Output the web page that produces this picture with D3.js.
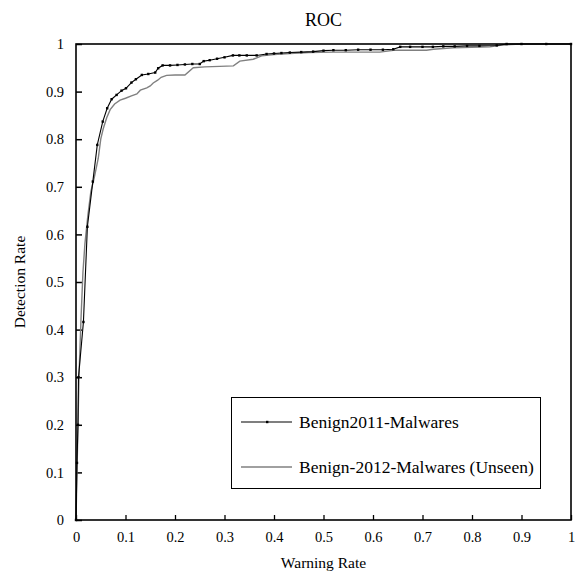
<!DOCTYPE html>
<html>
<head>
<meta charset="utf-8">
<script src="https://cdn.jsdelivr.net/npm/d3@7"></script>
<style>
  body { margin: 0; background: #fff; }
  svg { font-family: "Liberation Serif", "Times New Roman", serif; }
</style>
</head>
<body>
<script>
// data
const benign2011X = [0, 0.002, 0.004, 0.005, 0.015, 0.023, 0.034, 0.043, 0.054, 0.063, 0.072, 0.082, 0.092, 0.101, 0.112, 0.121, 0.133, 0.146, 0.160, 0.166, 0.175,
  0.19, 0.205, 0.22, 0.235, 0.25, 0.258, 0.27, 0.285, 0.30, 0.317, 0.33, 0.345, 0.365, 0.385, 0.40, 0.415, 0.432, 0.455, 0.479, 0.50, 0.52, 0.545, 0.57, 0.595,
  0.62, 0.641, 0.655, 0.675, 0.70, 0.721, 0.742, 0.765, 0.79, 0.815, 0.85, 0.87, 0.9, 0.95, 1];
const benign2011Y = [0, 0.12, 0.20, 0.30, 0.416, 0.616, 0.711, 0.788, 0.837, 0.865, 0.884, 0.893, 0.902, 0.907, 0.919, 0.926, 0.935, 0.937, 0.940, 0.949, 0.955,
  0.955, 0.956, 0.957, 0.958, 0.958, 0.964, 0.966, 0.969, 0.972, 0.976, 0.976, 0.976, 0.976, 0.979, 0.980, 0.981, 0.982, 0.983, 0.984, 0.986, 0.987, 0.987, 0.988, 0.988,
  0.988, 0.989, 0.994, 0.994, 0.994, 0.994, 0.995, 0.995, 0.996, 0.996, 0.997, 1, 1, 1, 1];

const benign2012X = [0, 0.003, 0.006, 0.010, 0.014, 0.018, 0.024, 0.03, 0.037, 0.045, 0.05, 0.055, 0.062, 0.069, 0.078, 0.089, 0.10, 0.112, 0.123, 0.13, 0.143,
  0.150, 0.156, 0.165, 0.172, 0.183, 0.200, 0.220, 0.237, 0.26, 0.29, 0.318, 0.331, 0.358, 0.375, 0.40, 0.432, 0.47, 0.52, 0.614, 0.641, 0.708, 0.722, 0.762,
  0.836, 0.857, 0.877, 0.9, 1];
const benign2012Y = [0, 0.15, 0.30, 0.42, 0.52, 0.58, 0.64, 0.69, 0.72, 0.76, 0.80, 0.822, 0.845, 0.862, 0.874, 0.882, 0.886, 0.891, 0.895, 0.903, 0.908,
  0.912, 0.918, 0.924, 0.930, 0.934, 0.935, 0.935, 0.950, 0.952, 0.953, 0.954, 0.964, 0.968, 0.975, 0.978, 0.980, 0.982, 0.983, 0.983, 0.987, 0.987, 0.989, 0.992,
  0.994, 0.997, 0.999, 1, 1];

const seriesNames = ['Benign2011-Malwares', 'Benign-2012-Malwares (Unseen)'];
const xTicks = [0, 0.1, 0.2, 0.3, 0.4, 0.5, 0.6, 0.7, 0.8, 0.9, 1];
const yTicks = [0, 0.1, 0.2, 0.3, 0.4, 0.5, 0.6, 0.7, 0.8, 0.9, 1];

const width = 579, height = 574;
const margin = {top: 44, right: 8, bottom: 54, left: 76};

const svg = d3.select('body')
    .append('svg')
    .attr('width', width)
    .attr('height', height);

const x = d3.scaleLinear().domain([0, 1]).range([margin.left, width - margin.right]);
const y = d3.scaleLinear().domain([0, 1]).range([height - margin.bottom, margin.top]);

// title
svg.append('text')
    .attr('x', (x(0) + x(1)) / 2)
    .attr('y', 26)
    .attr('text-anchor', 'middle')
    .attr('font-size', 18)
    .text('ROC');

// axes with inward ticks
const fmt = d => d3.format('')(d);
svg.append('g')
    .attr('transform', `translate(0,${y(0)})`)
    .call(d3.axisBottom(x).tickValues(xTicks).tickSizeInner(-5).tickSizeOuter(0).tickPadding(12).tickFormat(fmt))
    .call(g => g.select('.domain').remove())
    .call(g => g.selectAll('line').attr('stroke', '#000').attr('stroke-width', 1.3))
    .call(g => g.selectAll('text').attr('font-size', 14.5).attr('font-family', '"Liberation Serif", serif').attr('fill', '#000'));

svg.append('g')
    .attr('transform', `translate(${x(0)},0)`)
    .call(d3.axisLeft(y).tickValues(yTicks).tickSizeInner(-6).tickSizeOuter(0).tickPadding(12).tickFormat(fmt))
    .call(g => g.select('.domain').remove())
    .call(g => g.selectAll('line').attr('stroke', '#000').attr('stroke-width', 1.5))
    .call(g => g.selectAll('text').attr('font-size', 14.5).attr('font-family', '"Liberation Serif", serif').attr('fill', '#000'));

// axis titles
svg.append('text')
    .attr('x', (x(0) + x(1)) / 2)
    .attr('y', 568)
    .attr('text-anchor', 'middle')
    .attr('font-size', 15.5)
    .text('Warning Rate');

svg.append('text')
    .attr('transform', `translate(25,${(y(0) + y(1)) / 2}) rotate(-90)`)
    .attr('text-anchor', 'middle')
    .attr('font-size', 15.5)
    .text('Detection Rate');

// lines
const line = d3.line().x(d => x(d[0])).y(d => y(d[1]));
const gray = d3.zip(benign2012X, benign2012Y);
const black = d3.zip(benign2011X, benign2011Y);

svg.append('path')
    .datum(gray)
    .attr('fill', 'none')
    .attr('stroke', '#808080')
    .attr('stroke-width', 1.4)
    .attr('d', line);

svg.append('path')
    .datum(black)
    .attr('fill', 'none')
    .attr('stroke', '#000')
    .attr('stroke-width', 1.1)
    .attr('d', line);

svg.append('g')
    .selectAll('rect')
    .data(black)
    .join('rect')
        .attr('x', d => x(d[0]) - 1.2)
        .attr('y', d => y(d[1]) - 1.2)
        .attr('width', 2.4)
        .attr('height', 2.4)
        .attr('fill', '#000');

// plot frame
svg.append('rect')
    .attr('x', x(0))
    .attr('y', y(1))
    .attr('width', x(1) - x(0))
    .attr('height', y(0) - y(1))
    .attr('fill', 'none')
    .attr('stroke', '#000')
    .attr('stroke-width', 1.6);

// legend
const legend = svg.append('g');
legend.append('rect')
    .attr('x', 231.5)
    .attr('y', 397.5)
    .attr('width', 309)
    .attr('height', 91)
    .attr('fill', '#fff')
    .attr('stroke', '#000')
    .attr('stroke-width', 1);

const legendColors = ['#000', '#808080'];
const legendY = [422, 467];
seriesNames.forEach((name, i) => {
    legend.append('line')
        .attr('x1', 241).attr('x2', 292)
        .attr('y1', legendY[i]).attr('y2', legendY[i])
        .attr('stroke', legendColors[i])
        .attr('stroke-width', i === 0 ? 1.1 : 1.4);
    if (i === 0) {
        legend.append('rect')
            .attr('x', 266).attr('y', legendY[i] - 1.2)
            .attr('width', 2.4).attr('height', 2.4)
            .attr('fill', '#000');
    }
    legend.append('text')
        .attr('x', 299)
        .attr('y', legendY[i] + 5.5)
        .attr('font-size', 17.5)
        .text(name);
});
</script>
</body>
</html>
